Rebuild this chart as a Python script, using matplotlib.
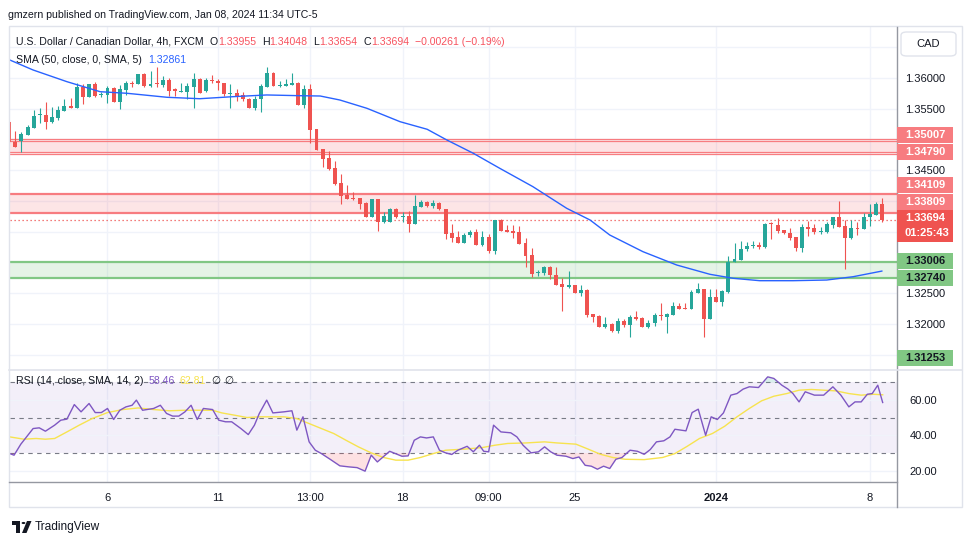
import matplotlib
matplotlib.use("Agg")
import matplotlib.pyplot as plt
import matplotlib.transforms as mtransforms
from matplotlib.patches import Rectangle, FancyBboxPatch, Polygon, Circle
import numpy as np

W, H = 970, 545
FONT = ["Liberation Sans", "DejaVu Sans"]
plt.rcParams["font.family"] = FONT

UP = "#26a69a"
DOWN = "#ef5350"
TEXT = "#131722"

# 4h candles, bar -1 is the partly hidden one on the left edge
bar_idx = list(range(-1, 142))
opens = [
    1.35285, 1.34959, 1.34981, 1.35078, 1.35192, 1.35394, 1.35398, 1.35285, 1.35355, 1.35468,
    1.35545, 1.35517, 1.35859, 1.35696, 1.35902, 1.35729, 1.35729, 1.35837, 1.35615, 1.35805,
    1.35924, 1.35902, 1.36065, 1.35865, 1.35914, 1.35886, 1.35968, 1.35816, 1.35772, 1.35777,
    1.35859, 1.35984, 1.35794, 1.35968, 1.35951, 1.35914, 1.35745, 1.35761, 1.35724, 1.35663,
    1.35517, 1.35654, 1.35859, 1.36086, 1.35875, 1.35875, 1.35891, 1.35919, 1.35566, 1.35821,
    1.35171, 1.34846, 1.34699, 1.34537, 1.34288, 1.34098, 1.34049, 1.34049, 1.33972, 1.33745,
    1.34033, 1.33664, 1.33664, 1.33870, 1.33745, 1.33756, 1.33626, 1.33907, 1.33984, 1.33924,
    1.33968, 1.33870, 1.33485, 1.33420, 1.33322, 1.33442, 1.33496, 1.33289, 1.33420, 1.33187,
    1.33696, 1.33529, 1.33512, 1.33496, 1.33317, 1.33122, 1.32829, 1.32834, 1.32927, 1.32797,
    1.32651, 1.32607, 1.32629, 1.32509, 1.32553, 1.32158, 1.32135, 1.31956, 1.32000, 1.31891,
    1.32049, 1.31984, 1.32114, 1.32103, 1.31946, 1.32011, 1.32146, 1.32119, 1.32146, 1.32293,
    1.32260, 1.32249, 1.32509, 1.32569, 1.32077, 1.32439, 1.32363, 1.32525, 1.33003, 1.33041,
    1.33215, 1.33268, 1.33285, 1.33257, 1.33637, 1.33610, 1.33529, 1.33480, 1.33410, 1.33241,
    1.33577, 1.33556, 1.33501, 1.33501, 1.33610, 1.33740, 1.33594, 1.33403, 1.33556, 1.33540,
    1.33735, 1.33777, 1.33955,
]
highs = [
    1.35301, 1.35138, 1.35127, 1.35236, 1.35480, 1.35507, 1.35605, 1.35533, 1.35550, 1.35654,
    1.35675, 1.35914, 1.35902, 1.35902, 1.35930, 1.35777, 1.35865, 1.35849, 1.35886, 1.35956,
    1.35956, 1.36065, 1.36076, 1.36119, 1.36184, 1.36037, 1.36005, 1.35833, 1.35914, 1.35919,
    1.36076, 1.36005, 1.35995, 1.36049, 1.35979, 1.35924, 1.35902, 1.35816, 1.35768, 1.35680,
    1.35707, 1.35898, 1.36184, 1.36098, 1.35951, 1.35984, 1.36086, 1.35930, 1.35886, 1.35902,
    1.35171, 1.34846, 1.34813, 1.34650, 1.34439, 1.34260, 1.34142, 1.34049, 1.33984, 1.34033,
    1.34033, 1.33826, 1.33878, 1.33881, 1.33826, 1.33842, 1.34098, 1.34016, 1.34005, 1.34016,
    1.33989, 1.33870, 1.33626, 1.33512, 1.33485, 1.33529, 1.33545, 1.33512, 1.33464, 1.33696,
    1.33707, 1.33610, 1.33610, 1.33594, 1.33403, 1.33231, 1.32873, 1.32948, 1.32948, 1.32927,
    1.32743, 1.32862, 1.32629, 1.32634, 1.32569, 1.32158, 1.32146, 1.32119, 1.32011, 1.32103,
    1.32077, 1.32146, 1.32211, 1.32119, 1.32065, 1.32184, 1.32346, 1.32174, 1.32353, 1.32346,
    1.32346, 1.32553, 1.32662, 1.32569, 1.32569, 1.32569, 1.32545, 1.33106, 1.33312, 1.33350,
    1.33338, 1.33350, 1.33338, 1.33647, 1.33664, 1.33719, 1.33529, 1.33556, 1.33410, 1.33626,
    1.33675, 1.33626, 1.33582, 1.33664, 1.33740, 1.34000, 1.33691, 1.33691, 1.33664, 1.33810,
    1.33951, 1.33984, 1.34048,
]
lows = [
    1.34943, 1.34878, 1.34802, 1.35073, 1.35179, 1.35263, 1.35171, 1.35276, 1.35312, 1.35463,
    1.35504, 1.35512, 1.35572, 1.35691, 1.35691, 1.35691, 1.35589, 1.35615, 1.35491, 1.35729,
    1.35859, 1.35902, 1.35859, 1.35859, 1.35859, 1.35849, 1.35707, 1.35707, 1.35768, 1.35654,
    1.35507, 1.35751, 1.35768, 1.35914, 1.35805, 1.35707, 1.35507, 1.35631, 1.35631, 1.35517,
    1.35480, 1.35452, 1.35849, 1.35875, 1.35849, 1.35875, 1.35881, 1.35566, 1.35507, 1.34951,
    1.34829, 1.34558, 1.34504, 1.34260, 1.33951, 1.34033, 1.34016, 1.33865, 1.33745, 1.33745,
    1.33517, 1.33647, 1.33664, 1.33719, 1.33664, 1.33501, 1.33626, 1.33907, 1.33907, 1.33881,
    1.33854, 1.33377, 1.33338, 1.33322, 1.33322, 1.33420, 1.33289, 1.33268, 1.33159, 1.33133,
    1.33517, 1.33501, 1.33403, 1.33306, 1.32932, 1.32769, 1.32785, 1.32802, 1.32727, 1.32639,
    1.32216, 1.32581, 1.32509, 1.32460, 1.32119, 1.32037, 1.31956, 1.31930, 1.31875, 1.31859,
    1.31956, 1.31794, 1.32065, 1.31946, 1.31935, 1.31968, 1.32065, 1.31849, 1.32146, 1.32239,
    1.32249, 1.32249, 1.32509, 1.31794, 1.32077, 1.32363, 1.32293, 1.32499, 1.33003, 1.33041,
    1.33192, 1.33241, 1.33220, 1.33236, 1.33382, 1.33485, 1.33459, 1.33366, 1.33192, 1.33176,
    1.33436, 1.33459, 1.33459, 1.33475, 1.33566, 1.33582, 1.32890, 1.33387, 1.33447, 1.33540,
    1.33598, 1.33777, 1.33654,
]
closes = [
    1.34959, 1.34883, 1.35090, 1.35198, 1.35382, 1.35410, 1.35285, 1.35366, 1.35480, 1.35545,
    1.35512, 1.35859, 1.35696, 1.35902, 1.35712, 1.35745, 1.35837, 1.35615, 1.35816, 1.35924,
    1.35902, 1.36065, 1.35865, 1.35902, 1.35902, 1.35968, 1.35794, 1.35784, 1.35789, 1.35870,
    1.35984, 1.35751, 1.35968, 1.35946, 1.35914, 1.35735, 1.35756, 1.35712, 1.35654, 1.35517,
    1.35663, 1.35875, 1.36076, 1.35875, 1.35886, 1.35902, 1.35919, 1.35566, 1.35821, 1.35155,
    1.34829, 1.34683, 1.34520, 1.34277, 1.34086, 1.34033, 1.34037, 1.33951, 1.33745, 1.34033,
    1.33664, 1.33756, 1.33870, 1.33735, 1.33756, 1.33626, 1.33919, 1.33989, 1.33919, 1.33963,
    1.33865, 1.33464, 1.33403, 1.33322, 1.33452, 1.33496, 1.33289, 1.33410, 1.33187, 1.33696,
    1.33517, 1.33501, 1.33485, 1.33306, 1.33111, 1.32818, 1.32851, 1.32927, 1.32792, 1.32639,
    1.32607, 1.32629, 1.32509, 1.32553, 1.32146, 1.32119, 1.31956, 1.32000, 1.31891, 1.32049,
    1.31984, 1.32114, 1.32081, 1.31956, 1.32011, 1.32142, 1.32135, 1.32163, 1.32293, 1.32249,
    1.32249, 1.32520, 1.32569, 1.32077, 1.32439, 1.32363, 1.32537, 1.33003, 1.33057, 1.33220,
    1.33268, 1.33285, 1.33247, 1.33626, 1.33621, 1.33512, 1.33475, 1.33403, 1.33241, 1.33577,
    1.33550, 1.33491, 1.33517, 1.33631, 1.33740, 1.33582, 1.33403, 1.33556, 1.33545, 1.33740,
    1.33789, 1.33951, 1.33694,
]

# SMA 50
sma_x = [-0.9, 2.9, 8.4, 13.8, 18.2, 24.7, 30.0, 35.4, 40.9, 46.3, 49.6, 52.8, 57.2, 62.6, 67.0,
         70.2, 74.5, 78.8, 84.2, 89.7, 93.5, 96.7, 102.1, 107.6, 113.0, 116.8, 121.1, 126.5,
         132.0, 136.3, 141.0]
sma_v = [1.36293, 1.36130, 1.35940, 1.35777, 1.35751, 1.35686, 1.35663, 1.35696, 1.35724,
         1.35712, 1.35707, 1.35642, 1.35507, 1.35289, 1.35166, 1.34992, 1.34776, 1.34532,
         1.34233, 1.33881, 1.33691, 1.33447, 1.33176, 1.32959, 1.32808, 1.32743, 1.32704,
         1.32704, 1.32715, 1.32769, 1.32861]

# RSI 14 and its SMA 14
rsi_x = [-0.9, -0.2, 0.9, 2.9, 3.9, 4.9, 6.4, 7.4, 8.4, 9.6, 10.7, 12.0, 13.0, 14.0, 15.0, 16.0,
         17.0, 18.0, 19.0, 19.7, 20.7, 22.5, 23.6, 24.6, 25.6, 26.6, 27.6, 28.6, 29.6, 30.6, 32.1,
         33.1, 34.2, 35.2, 36.7, 37.9, 38.9, 39.7, 40.9, 41.9, 43.7, 45.0, 45.8, 46.8, 47.8, 48.8,
         49.8, 51.3, 52.8, 54.3, 55.6, 56.9, 57.9, 58.9, 60.9, 62.9, 63.9, 64.9, 65.9, 66.9, 68.0,
         69.0, 70.0, 71.0, 72.0, 73.5, 74.5, 75.5, 76.2, 77.0, 77.8, 79.0, 80.6, 81.6, 82.6, 83.9,
         85.1, 86.1, 87.1, 88.1, 89.6, 90.7, 91.7, 92.7, 93.7, 94.7, 95.7, 96.7, 97.7, 98.7, 100.0,
         101.2, 102.3, 103.3, 104.3, 105.5, 106.5, 107.3, 108.3, 109.1, 110.1, 111.1, 112.3, 113.2,
         114.2, 115.2, 116.4, 117.4, 118.4, 119.4, 120.9, 122.4, 123.4, 124.7, 125.7, 126.5, 127.5,
         128.5, 130.0, 131.5, 133.0, 134.3, 135.6, 136.6, 137.6, 138.6, 139.4, 140.3, 141.1]
rsi_v = [29.7, 28.8, 35.0, 43.8, 44.2, 42.3, 45.7, 48.5, 49.1, 57.3, 53.2, 57.9, 52.8, 52.8, 55.1,
         48.9, 54.1, 56.0, 56.9, 59.8, 54.1, 55.1, 56.9, 52.3, 50.8, 50.8, 53.2, 56.9, 48.9, 55.1,
         54.5, 48.5, 47.6, 47.6, 43.8, 40.4, 45.7, 52.3, 59.8, 52.6, 53.2, 53.8, 42.9, 50.4, 36.3,
         31.6, 29.7, 26.3, 22.8, 22.2, 21.8, 19.8, 28.8, 25.0, 31.0, 28.2, 28.4, 37.2, 39.1, 38.5,
         39.1, 31.6, 30.1, 29.2, 31.6, 33.8, 30.7, 34.4, 31.0, 30.7, 45.7, 41.9, 41.4, 39.1, 34.4,
         30.1, 30.7, 33.5, 30.7, 28.8, 28.2, 26.9, 27.8, 23.1, 22.6, 20.9, 22.6, 21.3, 26.5, 27.5,
         31.6, 31.0, 29.3, 32.0, 36.3, 36.9, 39.1, 43.4, 42.9, 42.5, 52.8, 54.7, 40.0, 50.4, 48.9,
         52.6, 62.6, 63.5, 66.0, 67.3, 66.9, 72.9, 72.0, 68.2, 66.0, 63.5, 58.8, 64.5, 62.6, 62.6,
         67.3, 62.6, 56.0, 58.8, 58.8, 63.1, 63.5, 68.2, 58.46]
rsi_ma_x = [-0.9, 1.4, 3.4, 4.9, 6.4, 8.4, 10.4, 12.5, 15.0, 17.5, 20.0, 22.5, 25.1, 27.6, 30.6,
            32.1, 33.6, 35.7, 37.7, 39.7, 41.7, 43.7, 45.8, 47.8, 49.8, 51.8, 53.8, 55.8, 57.9,
            59.9, 61.9, 63.9, 65.9, 68.0, 70.0, 73.0, 76.0, 78.0, 80.1, 83.1, 86.1, 88.1, 91.2,
            93.2, 95.2, 97.2, 99.2, 102.3, 105.3, 107.3, 109.3, 111.3, 113.4, 115.4, 117.4, 119.4,
            121.4, 123.4, 125.5, 127.5, 129.5, 131.5, 133.5, 135.6, 137.6, 139.6, 141.1]
rsi_ma_v = [39.1, 37.8, 38.2, 37.8, 38.2, 41.9, 45.7, 49.4, 52.8, 54.5, 55.4, 54.5, 53.8, 54.1,
            54.1, 54.1, 52.6, 51.3, 50.0, 50.4, 50.4, 50.4, 49.4, 46.6, 43.8, 41.0, 37.2, 33.5,
            30.1, 27.5, 26.0, 26.0, 27.5, 29.7, 31.6, 32.2, 33.1, 34.4, 35.4, 35.7, 36.3, 35.7,
            35.0, 32.2, 29.3, 27.5, 26.5, 26.3, 27.5, 29.7, 33.8, 38.2, 41.0, 45.1, 50.4, 55.1,
            59.4, 62.0, 63.5, 65.4, 65.8, 65.4, 65.0, 63.5, 62.6, 63.1, 62.81]

# drawn zones (lower, upper)
red_zone_thin = [(1.34790, 1.35007), (1.34759, 1.34970)]
red_zone = (1.33809, 1.34109)
green_zone = (1.32740, 1.33006)
last_price = 1.33694
countdown = "01:25:43"
far_level = 1.31253

price_ticks = [1.315, 1.32, 1.325, 1.33, 1.335, 1.34, 1.345, 1.35, 1.355, 1.36, 1.365]
price_shown = [1.32, 1.325, 1.345, 1.355, 1.36]
time_ticks = [15, 33, 48, 63, 77, 91, 114, 139]
time_labels = ["6", "11", "13:00", "18", "09:00", "25", "2024", "8"]
rsi_grid = [20, 40, 60]
rsi_bands = [30, 50, 70]
sma_last = 1.32861
rsi_last, rsi_ma_last = 58.46, 62.81
ohlc_text = ["1.33955", "1.34048", "1.33654", "1.33694"]
change_text = "\u22120.00261 (\u22120.19%)"


def fbox(x0, y0, x1, y1):
    # pixel box (top-left origin) -> figure fraction rect
    return [x0 / W, 1 - y1 / H, (x1 - x0) / W, (y1 - y0) / H]


fig = plt.figure(figsize=(W / 100, H / 100), dpi=100)
fig.patch.set_facecolor("white")

ax = fig.add_axes(fbox(10, 27, 897, 369))
ax_rsi = fig.add_axes(fbox(10, 371, 897, 482), sharex=ax)

x_lo, x_hi = -0.86, 143.43
ax.set_xlim(x_lo, x_hi)
ax.set_ylim(1.312683, 1.36829)
ax_rsi.set_ylim(13.7, 76.2)

for a in (ax, ax_rsi):
    for s in a.spines.values():
        s.set_visible(False)
    a.tick_params(length=0)
    a.set_facecolor("none")
    for t in time_ticks:
        a.axvline(t, color="#f0f3fa", lw=1, zorder=0)

# price grid + right-hand labels
for p in price_ticks:
    ax.axhline(p, color="#f0f3fa", lw=1, zorder=0)
ax.yaxis.tick_right()
ax.set_yticks(price_shown)
ax.set_yticklabels([f"{p:.5f}" for p in price_shown], fontsize=8, color=TEXT)
ax.tick_params(axis="y", pad=6)
plt.setp(ax.get_xticklabels(), visible=False)

# zones
for lo, hi in red_zone_thin:
    ax.axhspan(lo, hi, color="#f23645", alpha=0.07, lw=0, zorder=1)
    ax.axhline(lo, color="#f77c80", lw=0.9, zorder=2)
    ax.axhline(hi, color="#f77c80", lw=0.9, zorder=2)
ax.axhspan(*red_zone, color="#f23645", alpha=0.13, lw=0, zorder=1)
for p in red_zone:
    ax.axhline(p, color="#f77c80", lw=1.6, zorder=2)
ax.axhspan(*green_zone, color="#4caf50", alpha=0.14, lw=0, zorder=1)
for p in green_zone:
    ax.axhline(p, color="#81c784", lw=1.6, zorder=2)
ax.axhline(last_price, color=DOWN, lw=0.9, ls=(0, (1, 2.2)), zorder=2)

# candles
for i, o, h, l, c in zip(bar_idx, opens, highs, lows, closes):
    col = UP if c >= o else DOWN
    ax.vlines(i, l, h, color=col, lw=0.8, zorder=3)
    ax.bar(i, max(abs(c - o), 0.00012), bottom=min(o, c), width=0.64,
           color=col, lw=0, zorder=4)

ax.plot(sma_x, sma_v, color="#2962ff", lw=1.0, zorder=5, solid_capstyle="round")

# RSI pane
ax_rsi.axhspan(30, 70, color="#7e57c2", alpha=0.09, lw=0, zorder=0)
for v in rsi_grid:
    ax_rsi.axhline(v, color="#f0f3fa", lw=1, zorder=0)
for v in rsi_bands:
    ax_rsi.axhline(v, color="#787b86", lw=0.8, ls=(0, (4, 4)), zorder=1)
rx = np.array(rsi_x)
rv = np.array(rsi_v)
ax_rsi.fill_between(rx, rv, 30, where=rv < 30, interpolate=True, color="#f23645",
                    alpha=0.15, lw=0, zorder=1)
ax_rsi.fill_between(rx, rv, 70, where=rv > 70, interpolate=True, color="#089981",
                    alpha=0.15, lw=0, zorder=1)
ax_rsi.plot(rsi_ma_x, rsi_ma_v, color="#f7e34f", lw=1.0, zorder=2)
ax_rsi.plot(rsi_x, rsi_v, color="#7e57c2", lw=1.0, zorder=3)
ax_rsi.yaxis.tick_right()
ax_rsi.set_yticks(rsi_grid)
ax_rsi.set_yticklabels([f"{v:.2f}" for v in rsi_grid], fontsize=8, color=TEXT)
ax_rsi.tick_params(axis="y", pad=9)
ax_rsi.set_xticks(time_ticks)
ax_rsi.set_xticklabels(time_labels, fontsize=8, color=TEXT)
ax_rsi.tick_params(axis="x", pad=8)
for lab in ax_rsi.get_xticklabels():
    if lab.get_text() == "2024":
        lab.set_fontweight("bold")

# frame and axis lines
fig.add_artist(Rectangle((9 / W, 1 - 507 / H), 953 / W, 481 / H, transform=fig.transFigure,
                         fill=False, ec="#e0e3eb", lw=1))
fig.add_artist(plt.Line2D([897 / W, 897 / W], [1 - 27 / H, 1 - 507 / H],
                          transform=fig.transFigure, color="#9598a1", lw=1))
fig.add_artist(plt.Line2D([9 / W, 897 / W], [1 - 482 / H, 1 - 482 / H],
                          transform=fig.transFigure, color="#9598a1", lw=1))
fig.add_artist(plt.Line2D([9 / W, 962 / W], [1 - 370 / H, 1 - 370 / H],
                          transform=fig.transFigure, color="#e0e3eb", lw=1.2))

# price labels on the right axis (shift in px keeps them from overlapping)
lab_trans = mtransforms.blended_transform_factory(fig.transFigure, ax.transData)


def price_label(price, text, face, color, shift, height=16, lines=1):
    tr = mtransforms.offset_copy(lab_trans, fig=fig, y=-shift * 0.72, units="points")
    y_disp = tr.transform((0, price))[1]
    y_top = H - y_disp
    box_h = height * lines
    fig.add_artist(Rectangle((897 / W, 1 - (y_top + box_h / 2 + (lines - 1) * height / 2) / H),
                             56 / W, box_h / H, transform=fig.transFigure, fc=face,
                             ec="none", zorder=5))
    fig.text(905 / W, 1 - y_top / H, text, ha="left", va="center", fontsize=8,
             color=color, fontweight="bold", zorder=6)


price_label(red_zone_thin[0][1], f"{red_zone_thin[0][1]:.5f}", "#f77c80", "white", -4)
price_label(red_zone_thin[0][0], f"{red_zone_thin[0][0]:.5f}", "#f77c80", "white", 0)
price_label(red_zone[1], f"{red_zone[1]:.5f}", "#f77c80", "white", -9)
price_label(red_zone[0], f"{red_zone[0]:.5f}", "#f77c80", "white", -10.5)
price_label(last_price, f"{last_price:.5f}", DOWN, "white", -2, lines=2)
fig.text(905 / W, 1 - 233 / H, countdown, ha="left", va="center", fontsize=8,
         color="white", fontweight="bold", zorder=6)
price_label(green_zone[1], f"{green_zone[1]:.5f}", "#81c784", TEXT, -1)
price_label(green_zone[0], f"{green_zone[0]:.5f}", "#81c784", TEXT, 0)
price_label(far_level, f"{far_level:.5f}", "#81c784", TEXT, -12)

# CAD box
fig.add_artist(FancyBboxPatch((901 / W, 1 - 56 / H), 55 / W, 24 / H,
                              boxstyle="round,pad=0,rounding_size=0.006",
                              transform=fig.transFigure, fc="white", ec="#e0e3eb", lw=1))
fig.text(928.5 / W, 1 - 44 / H, "CAD", ha="center", va="center", fontsize=8, color=TEXT)

# legends
renderer = fig.canvas.get_renderer()


def segments(x, y, parts, size=7.6):
    for text, color, gap in parts:
        t = fig.text(x / W, 1 - y / H, text, ha="left", va="center", fontsize=size,
                     color=color, family=FONT)
        x += t.get_window_extent(renderer).width + gap


fig.text(8 / W, 1 - 15 / H, "gmzern published on TradingView.com, Jan 08, 2024 11:34 UTC-5",
         ha="left", va="center", fontsize=7.6, color=TEXT)
VAL = "#f7525f"
segments(16, 42, [
    ("U.S. Dollar / Canadian Dollar, 4h, FXCM", TEXT, 6),
    ("O", TEXT, 0), (ohlc_text[0], VAL, 6),
    ("H", TEXT, 0), (ohlc_text[1], VAL, 6),
    ("L", TEXT, 0), (ohlc_text[2], VAL, 6),
    ("C", TEXT, 0), (ohlc_text[3], VAL, 6),
    (change_text, VAL, 0),
])
segments(16, 60, [("SMA (50, close, 0, SMA, 5)", TEXT, 6), (f"{sma_last:.5f}", "#2962ff", 0)])
segments(16, 381, [("RSI (14, close, SMA, 14, 2)", TEXT, 5), (f"{rsi_last:.2f}", "#7e57c2", 5),
                   (f"{rsi_ma_last:.2f}", "#f7e34f", 5), ("\u2205", TEXT, 4), ("\u2205", TEXT, 0)])

# footer logo
fig.add_artist(Polygon([(12 / W, 1 - 521 / H), (20 / W, 1 - 521 / H), (20 / W, 1 - 533 / H),
                        (16.5 / W, 1 - 533 / H), (16.5 / W, 1 - 525 / H), (12 / W, 1 - 525 / H)],
                       closed=True, transform=fig.transFigure, fc=TEXT, ec="none"))
fig.add_artist(Circle((23.5 / W, 1 - 523 / H), 1.9 / W, transform=fig.transFigure, fc=TEXT, ec="none"))
fig.add_artist(Polygon([(27 / W, 1 - 521 / H), (31.5 / W, 1 - 521 / H), (26.5 / W, 1 - 533 / H),
                        (22 / W, 1 - 533 / H)], closed=True, transform=fig.transFigure,
                       fc=TEXT, ec="none"))
fig.text(35 / W, 1 - 527 / H, "TradingView", ha="left", va="center", fontsize=8.6, color=TEXT)

fig.savefig("out.png", dpi=100, facecolor="white")
